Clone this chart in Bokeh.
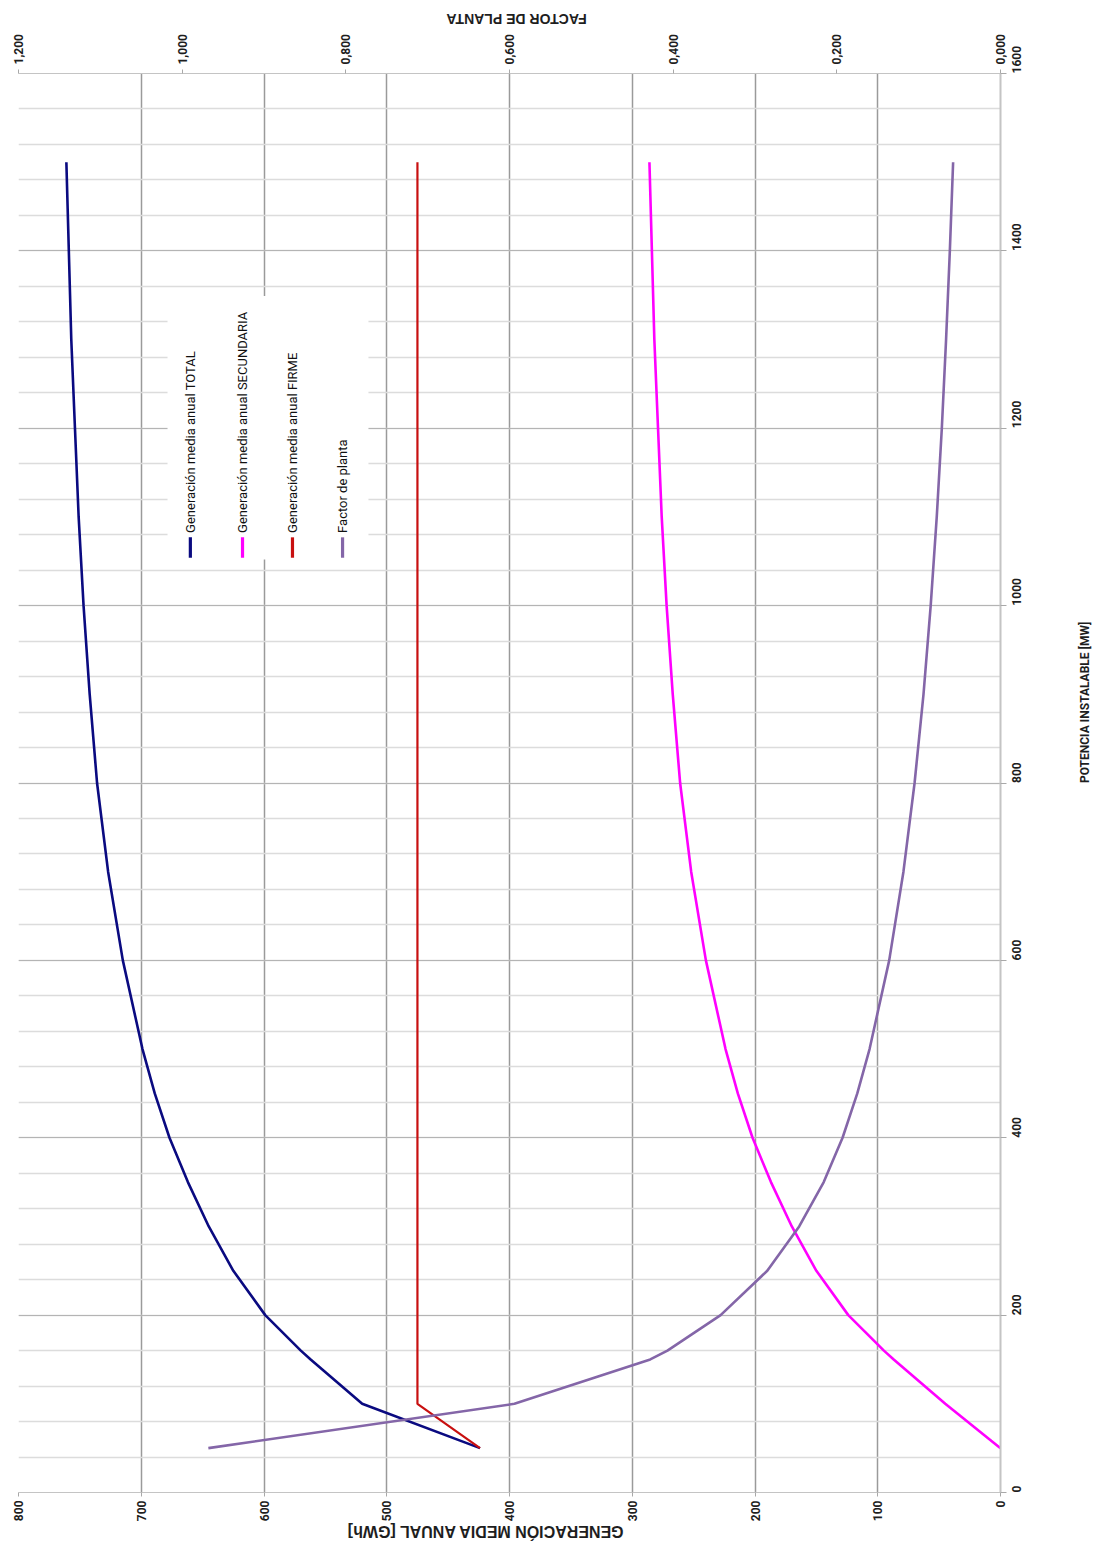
import math
from bokeh.plotting import figure
from bokeh.models import (Range1d, LinearAxis, SingleIntervalTicker, FixedTicker,
                          CustomJSTickFormatter, Label, BoxAnnotation)
from bokeh.embed import file_html
from bokeh.resources import INLINE

# ---------------- data ----------------
potencia = [50, 100, 150, 160, 200, 250, 300, 350, 400, 450, 500, 600, 700, 800, 900,
            1000, 1100, 1200, 1300, 1400, 1500]
gen_total = [424, 520, 562, 570, 599, 625, 645, 662, 677, 689, 699, 715, 727, 736, 742,
             747, 751, 754, 757, 759, 761]
gen_firme = [424, 475, 475, 475, 475, 475, 475, 475, 475, 475, 475, 475, 475, 475, 475,
             475, 475, 475, 475, 475, 475]
gen_secundaria = [0, 45, 87, 95, 124, 150, 170, 187, 202, 214, 224, 240, 252, 261, 267,
                  272, 276, 279, 282, 284, 286]
factor_planta = [0.968, 0.594, 0.428, 0.407, 0.342, 0.285, 0.246, 0.216, 0.193, 0.175, 0.160,
                 0.136, 0.1186, 0.105, 0.0941, 0.0853, 0.0779, 0.0717, 0.0665, 0.0619, 0.0579]
factor_ticks = [0.0, 0.2, 0.4, 0.6, 0.8, 1.0, 1.2]

legend_labels = ["Generación media anual TOTAL", "Generación media anual SECUNDARIA",
                 "Generación media anual FIRME", "Factor de planta"]
colors = ["#0a0a80", "#ff00ff", "#c81010", "#8466a8"]

NARROW = "Roboto"
WIDE = "Liberation Sans"
EM = "\u2003"
NB = "\u00a0"

p = figure(width=1110, height=1553,
           x_range=Range1d(800, 0), y_range=Range1d(0, 1600),
           output_backend="svg", toolbar_location=None,
           x_axis_location="below", y_axis_location="right",
           min_border_left=18, min_border_right=110,
           min_border_top=71, min_border_bottom=61)
p.outline_line_color = None
p.background_fill_color = "white"

p.extra_x_ranges = {"factor": Range1d(1.2, 0)}

props = LinearAxis.properties()
has_orient = "axis_label_orientation" in props
has_align = "axis_label_align" in props


def style_axis(ax, tick_out, standoff):
    ax.major_label_orientation = math.pi / 2
    ax.axis_line_color = "#c4c4c4"
    ax.major_tick_line_color = "#a8a8a8"
    ax.major_tick_out = tick_out
    ax.major_tick_in = 0
    ax.minor_tick_line_color = None
    ax.major_label_standoff = standoff
    ax.major_label_text_font = NARROW
    ax.major_label_text_font_style = "bold"
    ax.major_label_text_font_size = "12px"
    ax.major_label_text_color = "#1e1e1e"


# bottom axis (generation)
xa = p.xaxis[0]
xa.ticker = SingleIntervalTicker(interval=100, num_minor_ticks=0)
style_axis(xa, 4, 4)

# right axis (potencia)
ya = p.yaxis[0]
ya.ticker = SingleIntervalTicker(interval=200, num_minor_ticks=5)
style_axis(ya, 6, 10)
ya.axis_line_width = 2

# top axis (factor de planta)
ta = LinearAxis(x_range_name="factor", ticker=FixedTicker(ticks=factor_ticks),
                formatter=CustomJSTickFormatter(code="return tick.toFixed(3).replace('.', ',');"))
style_axis(ta, 4, 5)
p.add_layout(ta, "above")

title_x = "GENERACIÓN MEDIA ANUAL [GWh]"
title_top = "FACTOR DE PLANTA"
title_y = "POTENCIA INSTALABLE [MW]"

if has_orient and has_align:
    # upside-down titles anchored at the right end of the axis, shifted by leading spaces
    titles = [
        (xa, EM * 23 + NB * 2 + title_x, -math.pi, WIDE, "16px", 7, "start"),
        (ta, EM * 29 + NB * 2 + title_top, math.pi, WIDE, "14px", 12, "start"),
        (ya, title_y, math.pi / 2, NARROW, "12px", 56, "center"),
    ]
else:
    titles = [
        (xa, title_x, -math.pi, WIDE, "16px", 7, None),
        (ta, title_top, math.pi, WIDE, "14px", 12, None),
        (ya, title_y, math.pi / 2, NARROW, "12px", 56, None),
    ]

for ax, txt, ang, fnt, fs, so, al in titles:
    ax.axis_label = txt
    if has_orient:
        ax.axis_label_orientation = ang
    if al is not None:
        ax.axis_label_align = al
    ax.axis_label_standoff = so
    ax.axis_label_text_font = fnt
    ax.axis_label_text_font_style = "bold"
    ax.axis_label_text_font_size = fs
    ax.axis_label_text_color = "#1e1e1e"

# grids
p.xgrid.ticker = xa.ticker
p.xgrid.grid_line_color = "#9a9a9a"
p.xgrid.grid_line_width = 1.5
p.ygrid.ticker = ya.ticker
p.ygrid.grid_line_color = "#b4b4b4"
p.ygrid.grid_line_width = 1.2
p.ygrid.minor_grid_line_color = "#dcdcdc"
p.ygrid.minor_grid_line_width = 1.5

# series
p.line(gen_total, potencia, line_color=colors[0], line_width=2.6)
p.line(gen_secundaria, potencia, line_color=colors[1], line_width=2.6)
p.line(gen_firme, potencia, line_color=colors[2], line_width=2.2)
p.line(factor_planta, potencia, line_color=colors[3], line_width=2.6, x_range_name="factor")

# legend (rotated, drawn manually)
p.add_layout(BoxAnnotation(left=678.6, right=514.9, top=1349, bottom=1052,
                           fill_color="white", fill_alpha=1.0, line_color=None))
legend_x = [660, 617.5, 576.8, 536]
for lx, lab, col in zip(legend_x, legend_labels, colors):
    p.add_layout(BoxAnnotation(left=lx + 1.3, right=lx - 1.3, top=1077, bottom=1054,
                               fill_color=col, fill_alpha=1.0, line_color=None))
    p.add_layout(Label(x=lx, y=1082, text=lab, angle=math.pi / 2,
                       text_align="left", text_baseline="middle",
                       text_font=NARROW, text_font_size="13px", text_color="#111111"))

open("out.html", "w").write(file_html(p, INLINE))
